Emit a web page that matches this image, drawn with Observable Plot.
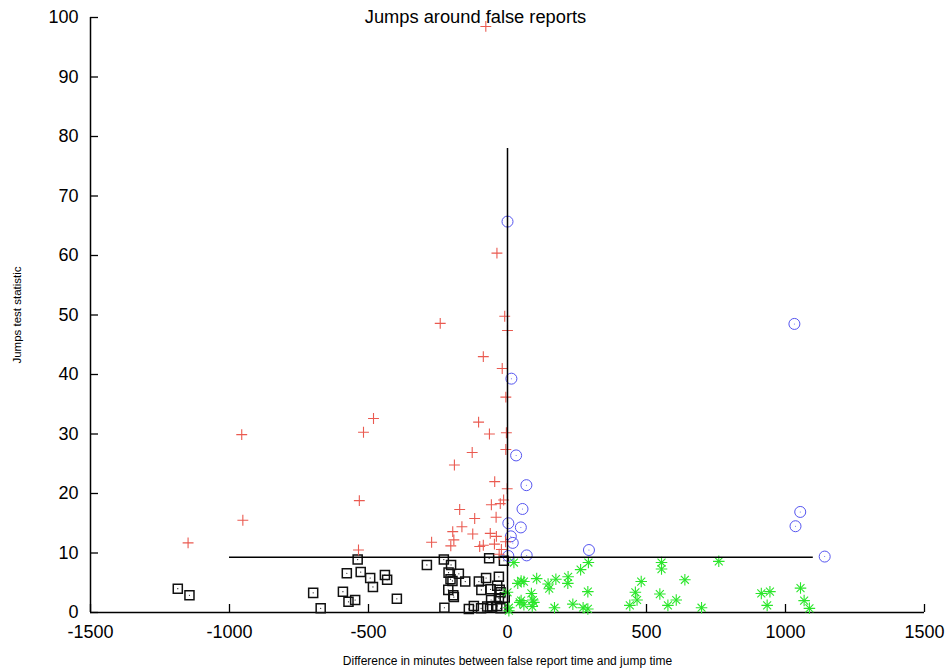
<!DOCTYPE html>
<html>
<head>
<meta charset="utf-8">
<script src="https://cdn.jsdelivr.net/npm/d3@7"></script>
<script src="https://cdn.jsdelivr.net/npm/@observablehq/plot@0.6"></script>
<style>
  html, body { margin: 0; padding: 0; background: #fff; }
  #chart { width: 951px; height: 670px; }
</style>
</head>
<body>
<div id="chart"></div>
<script>
const titleText = "Jumps around false reports";
const xLabelText = "Difference in minutes between false report time and jump time";
const yLabelText = "Jumps test statistic";

const xTicks = [-1500, -1000, -500, 0, 500, 1000, 1500];
const yTicks = [0, 10, 20, 30, 40, 50, 60, 70, 80, 90, 100];

// reference lines
const vLineX = [0];
const vLineSpan = [0, 78];
const hLineY = [9.3];
const hLineSpan = [-1000, 1100];

// red plus series
const plusPts = [
  [-78,98.5],[-38,60.4],[-10,49.8],[0,47.4],[-242,48.6],[-87,43.0],[-19,41.0],[-6,36.2],
  [-104,32.0],[-65,30.0],[-4,30.2],[-127,26.9],[-6,27.4],[-191,24.8],[-46,22.0],[-1,20.8],
  [-26,18.3],[-14,18.9],[-172,17.3],[-58,18.1],[-118,15.8],[-41,16.0],[-164,14.4],[-197,13.6],
  [-125,13.2],[-62,13.3],[-40,12.8],[-273,11.8],[-193,12.2],[-204,11.2],[-100,11.1],[-87,11.3],
  [-47,11.5],[-7,11.9],[-22,10.6],[-30,9.8],[-482,32.6],[-518,30.3],[-956,29.9],[-533,18.8],
  [-952,15.5],[-1149,11.7],[-536,10.5]
];

// blue circle series
const circlePts = [
  [0,65.7],[14,39.3],[31,26.4],[68,21.4],[54,17.4],[48,14.3],[3,15.0],[12,12.8],[19,11.7],
  [3,9.5],[69,9.6],[293,10.5],[1032,48.5],[1053,16.9],[1036,14.5],[1141,9.4]
];

// green asterisk series
const asteriskPts = [
  [23,8.4],[49,5.3],[37,4.9],[59,5.2],[105,5.7],[146,4.8],[150,4.0],[174,5.6],[218,6.0],
  [217,4.9],[263,7.2],[291,8.4],[86,3.2],[91,2.1],[49,2.0],[59,1.3],[89,1.0],[5,0.8],
  [169,0.8],[235,1.4],[272,0.8],[289,0.6],[289,3.5],[554,8.4],[554,7.3],[760,8.6],[481,5.2],
  [460,3.4],[466,2.1],[440,1.2],[548,3.1],[607,2.1],[577,1.2],[638,5.5],[698,0.8],[913,3.2],
  [944,3.5],[934,1.2],[1054,4.1],[1067,2.0],[1086,0.7],[0,3.4],[5,0.3],[44,1.7],[95,1.7]
];

// black square series
const squarePts = [
  [-1186,4.0],[-1144,2.9],[-699,3.3],[-672,0.7],[-592,3.5],[-572,1.8],[-548,2.1],[-578,6.6],
  [-528,6.8],[-539,8.9],[-494,5.8],[-484,4.3],[-441,6.3],[-433,5.5],[-398,2.3],[-290,8.0],
  [-229,8.9],[-203,8.0],[-212,6.7],[-175,6.5],[-205,5.6],[-198,5.3],[-152,5.2],[-213,3.8],
  [-195,2.9],[-193,2.6],[-227,0.8],[-103,5.2],[-77,5.8],[-94,3.8],[-31,6.0],[-37,4.5],
  [-61,3.9],[-28,3.8],[-59,2.1],[-31,2.4],[-66,9.1],[-13,8.7],[-10,2.5],[-139,0.6],
  [-121,1.1],[-95,0.7],[-73,1.0],[-55,1.0],[-37,1.1],[-25,0.7],[-25,3.4]
];

const font = "'Liberation Sans', Arial, Helvetica, sans-serif";
const X = d => d[0], Y = d => d[1];

const chart = Plot.plot({
  width: 951,
  height: 670,
  marginLeft: 90,
  marginRight: 27,
  marginTop: 17,
  marginBottom: 58,
  style: { fontFamily: font, fontSize: "18px", color: "#000", background: "#fff" },
  x: { domain: [-1500, 1500] },
  y: { domain: [0, 100] },
  marks: [
    Plot.axisX({ ticks: xTicks, tickSize: -8, tickPadding: 21, tickFormat: d => String(d), label: null, strokeWidth: 1.3, fontSize: 18 }),
    Plot.axisY({ ticks: yTicks, tickSize: -8, tickPadding: 20, tickFormat: d => String(d), label: null, strokeWidth: 1.3, fontSize: 18 }),
    Plot.ruleX([xTicks[0]], { stroke: "#000", strokeWidth: 1.5 }),
    Plot.ruleY([yTicks[0]], { stroke: "#000", strokeWidth: 1.5 }),
    // black squares with centre dot
    Plot.dot(squarePts, { x: X, y: Y, symbol: "square", r: 5.1, fill: "none", stroke: "#111", strokeWidth: 1.5 }),
    Plot.dot(squarePts, { x: X, y: Y, r: 0.6, fill: "#111", stroke: "none" }),
    // green asterisks (plus + times)
    Plot.dot(asteriskPts, { x: X, y: Y, symbol: "plus", r: 3.8, stroke: "#2ae62a", strokeWidth: 1.1 }),
    Plot.dot(asteriskPts, { x: X, y: Y, symbol: "times", r: 3.7, stroke: "#2ae62a", strokeWidth: 1.1 }),
    // blue circles with centre dot
    Plot.dot(circlePts, { x: X, y: Y, symbol: "circle", r: 5.5, fill: "none", stroke: "#5555f0", strokeWidth: 1 }),
    Plot.dot(circlePts, { x: X, y: Y, r: 0.5, fill: "#5555f0", stroke: "none" }),
    // red plus
    Plot.dot(plusPts, { x: X, y: Y, symbol: "plus", r: 3.6, stroke: "#ea5a50", strokeWidth: 1.1 }),
    // reference lines
    Plot.ruleX(vLineX, { y1: vLineSpan[0], y2: vLineSpan[1], stroke: "#000", strokeWidth: 1.5 }),
    Plot.ruleY(hLineY, { x1: hLineSpan[0], x2: hLineSpan[1], stroke: "#000", strokeWidth: 1.5 }),
    // title and axis labels
    Plot.text([titleText], { frameAnchor: "top", dx: -32, dy: 5, lineAnchor: "bottom", fontSize: 18.3, fill: "#000" }),
    Plot.text([xLabelText], { frameAnchor: "bottom", dy: 49, lineAnchor: "middle", textAnchor: "middle", fontSize: 12, fill: "#000" }),
    Plot.text([yLabelText], { frameAnchor: "left", dx: -73, rotate: -90, textAnchor: "middle", lineAnchor: "middle", fontSize: 11.5, fill: "#000" })
  ]
});
document.getElementById("chart").appendChild(chart);
</script>
</body>
</html>
